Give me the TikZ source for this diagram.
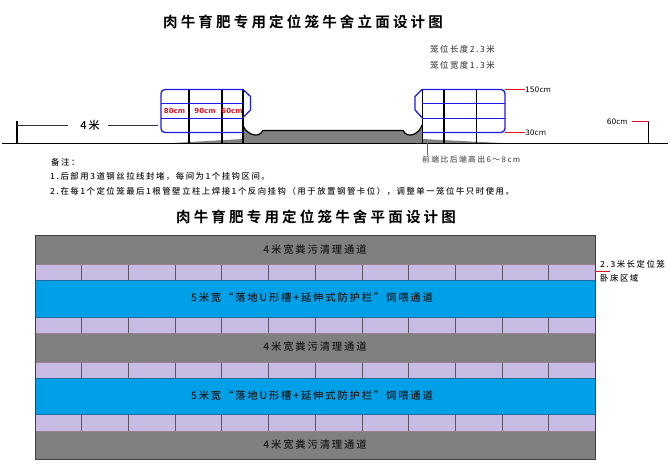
\documentclass[tikz,border=0pt]{standalone}
\usepackage{fontspec}
\setmainfont{Noto Sans CJK SC Medium}[LetterSpace=18]
\newfontfamily\headfont{Noto Sans CJK SC Bold}[LetterSpace=22]
\newfontfamily\cmfont{DejaVu Sans}
\definecolor{lanecolor}{HTML}{808080}
\definecolor{bedcolor}{HTML}{C9BCE4}
\definecolor{feedcolor}{HTML}{00A0E9}
\definecolor{cagecolor}{HTML}{1C1CE8}
\definecolor{marksred}{HTML}{E01020}
\definecolor{edgepink}{HTML}{9C7F8E}
\definecolor{edgeblue}{HTML}{1F6C9C}
\tikzset{
  headtext/.style={font=\headfont\fontsize{14.5}{16}\selectfont, text=black, inner sep=0pt},
  notetext/.style={font=\fontsize{8.4}{10}\selectfont, text=black!90, inner sep=0pt, anchor=west},
  lanetext/.style={font=\fontsize{10.3}{12}\selectfont, text=black!90, inner sep=0pt},
  cmred/.style={font=\cmfont\bfseries\fontsize{7}{8}\selectfont, text=marksred, inner sep=0pt},
  cmblack/.style={font=\cmfont\fontsize{7.5}{9}\selectfont, text=black, inner sep=0pt},
  postline/.style={black, line width=1.4pt},
  cageline/.style={cagecolor, line width=1.3pt},
  redmark/.style={marksred, line width=1.4pt},
  dimline/.style={black!80, line width=.6pt}
}
\begin{document}
\begin{tikzpicture}[x=1pt,y=-1pt]
\useasboundingbox (0,0) rectangle (670,473);
\fill[white] (0,0) rectangle (670,473);
% elevation
\node[headtext] (elevtitle) at (303,22) {肉牛育肥专用定位笼牛舍立面设计图};
\node[notetext, text=black!70] (cagelen) at (430,49) {笼位长度2.3米};
\node[notetext, text=black!70] (cagewid) at (430,65) {笼位宽度1.3米};
\fill[lanecolor] (173,143) -- (243,139) -- (243,143) -- cycle;
\fill[lanecolor] (422,139) -- (501,143) -- (422,143) -- cycle;
\fill[lanecolor] (243,125) .. controls (245,133) and (258,140) .. (263,130.5)
  -- (403,130.5) .. controls (408,140) and (420,133) .. (422,125) -- (422,143) -- (243,143) -- cycle;
\draw[black, line width=1.2pt] (243,125) .. controls (245,133) and (258,140) .. (263,130.5)
  -- (403,130.5) .. controls (408,140) and (420,133) .. (422,125);
\coordinate (groundl) at (2,143);
\coordinate (groundr) at (668,143);
\draw[black, line width=.9pt] (groundl) -- (groundr);
% left cage
\foreach \xp in {189,222,243}
  \draw[postline] (\xp,89) -- (\xp,143);
\draw[cageline, rounded corners=4pt] (243,89.5) -- (161,89.5) -- (161,132.5) -- (243,132.5);
\draw[cageline] (161,103.5) -- (243,103.5);
\draw[cageline] (161,118.5) -- (243,118.5);
\draw[cageline] (243,89.5) -- (250.5,96.5) -- (250.5,110) -- (243,117.5);
\node[cmred] (len80) at (174.5,111) {80cm};
\node[cmred] (len90) at (205,111) {90cm};
\node[cmred] (len60) at (232,111) {60cm};
% right cage
\foreach \xp in {422.5,444,476.5}
  \draw[postline] (\xp,89) -- (\xp,143);
\draw[cageline, rounded corners=4pt] (422,89.5) -- (505,89.5) -- (505,132.5) -- (422,132.5);
\draw[cageline] (422,103.5) -- (505,103.5);
\draw[cageline] (422,118.5) -- (505,118.5);
\draw[cageline] (422,89.5) -- (415,96.5) -- (415,110) -- (422,117.5);
% end posts and marks
\coordinate (postltop) at (17,121);
\coordinate (postlfoot) at (17,143);
\coordinate (postrtop) at (648.5,121.5);
\coordinate (postrfoot) at (648.5,143);
\draw[black, line width=1.8pt] (postltop) -- (postlfoot);
\draw[black, line width=1.8pt] (postrtop) -- (postrfoot);
\node[cmblack, font=\fontsize{11}{12}\selectfont] (wid4) at (90,125) {4米};
\coordinate (dimla) at (17,125.5);
\coordinate (dimlb) at (68,125.5);
\coordinate (dimra) at (108,125.5);
\coordinate (dimrb) at (158,125.5);
\draw[dimline] (dimla) -- (dimlb);
\draw[dimline] (dimra) -- (dimrb);
\node[cmblack, anchor=west] (h150) at (525,89.5) {150cm};
\node[cmblack, anchor=west] (h30) at (525,132.5) {30cm};
\node[cmblack, anchor=east] (h60) at (628,121.5) {60cm};
\coordinate (cagetop) at (505,89.5);
\coordinate (cagefoot) at (505,132.5);
\coordinate (h60tick) at (632,121.5);
\draw[redmark] (cagetop) -- (h150.west);
\draw[redmark] (cagefoot) -- (h30.west);
\draw[redmark] (h60tick) -- (postrtop);
\node[notetext, font=\fontsize{7.8}{9}\selectfont, text=black!65] (slopenote) at (422,160) {前端比后端高出6～8cm};
\coordinate (slopetop) at (427,143);
\draw[black!60, line width=.6pt] (slopetop) -- (427,155);
% notes
\node[notetext] (noteshead) at (51,162) {备注：};
\node[notetext] (noteone) at (50,176) {1.后部用3道钢丝拉线封堵，每间为1个挂钩区间。};
\node[notetext] (notetwo) at (50,191) {2.在每1个定位笼最后1根管壁立柱上焊接1个反向挂钩（用于放置钢管卡位），调整单一笼位牛只时使用。};
% plan
\node[headtext] (plantitle) at (316,217) {肉牛育肥专用定位笼牛舍平面设计图};
\fill[lanecolor] (35,235) rectangle (595,264);
\fill[bedcolor] (35,264) rectangle (595,280);
\fill[feedcolor] (35,280) rectangle (595,317);
\fill[bedcolor] (35,317) rectangle (595,333);
\fill[lanecolor] (35,333) rectangle (595,362);
\fill[bedcolor] (35,362) rectangle (595,378);
\fill[feedcolor] (35,378) rectangle (595,414);
\fill[bedcolor] (35,414) rectangle (595,431);
\fill[lanecolor] (35,431) rectangle (595,459);
\foreach \yb/\yc in {264/280,317/333,362/378,414/431}
  \foreach \xd in {81,128,175,221,268,315,362,408.5,455,502,548.5}
    \draw[black!55!bedcolor, line width=.6pt] (\xd,\yb) -- (\xd,\yc);
\foreach \yp in {264,333,362,431}
  \draw[edgepink, line width=.7pt] (35,\yp) -- (595,\yp);
\foreach \yp in {280,317,378,414}
  \draw[edgeblue, line width=.6pt] (35,\yp) -- (595,\yp);
\draw[black!75, line width=.9pt] (35,235) rectangle (595,459);
\node[lanetext] (laneone) at (315,250) {4米宽粪污清理通道};
\node[lanetext] (feedone) at (312,298) {5米宽“落地U形槽+延伸式防护栏”饲喂通道};
\node[lanetext] (lanetwo) at (315,347) {4米宽粪污清理通道};
\node[lanetext] (feedtwo) at (312,396) {5米宽“落地U形槽+延伸式防护栏”饲喂通道};
\node[lanetext] (lanethree) at (315,445) {4米宽粪污清理通道};
\node[notetext] (bedone) at (600,264) {2.3米长定位笼};
\node[notetext] (bedtwo) at (600,278.5) {卧床区域};
\coordinate (bededge) at (595,271.5);
\coordinate (bedtick) at (610,271.5);
\draw[marksred, line width=.9pt] (bededge) -- (bedtick);
\end{tikzpicture}
\end{document}
